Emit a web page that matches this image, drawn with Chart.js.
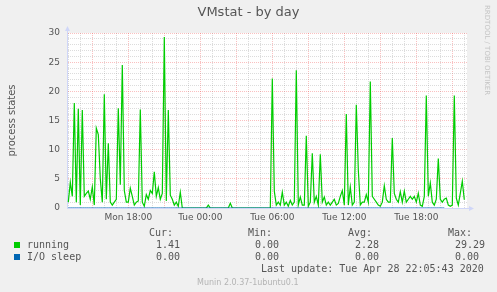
<!DOCTYPE html>
<html><head><meta charset="utf-8">
<script src="https://cdn.jsdelivr.net/npm/chart.js@4.4.1/dist/chart.umd.min.js"></script>
<style>
html,body{margin:0;padding:0;background:#f0f0f0;}
#wrap{position:relative;width:497px;height:292px;overflow:hidden;background:#f0f0f0;}
#c{position:absolute;left:0;top:0;}
.t{position:absolute;font-family:"DejaVu Sans Mono",monospace;font-size:10px;line-height:12px;color:#555;white-space:pre;}
.sq{position:absolute;width:6px;height:6px;}
#munin{position:absolute;left:197px;top:278px;font-family:"DejaVu Sans",sans-serif;font-size:8px;line-height:10px;color:#b4b4b4;white-space:pre;}
#rrd{position:absolute;left:483px;top:5px;font-family:"DejaVu Sans",sans-serif;font-size:7px;color:#c4c4c4;writing-mode:vertical-rl;white-space:pre;}
</style></head><body>
<div id="wrap">
<canvas id="c" width="497" height="292"></canvas>
<div class="t" style="left:149px;top:227px">Cur:</div>
<div class="t" style="left:248px;top:227px">Min:</div>
<div class="t" style="left:348px;top:227px">Avg:</div>
<div class="t" style="left:448px;top:227px">Max:</div>
<div class="sq" style="left:14px;top:242px;background:#00cc00"></div>
<div class="t" style="left:27px;top:239px">running</div>
<div class="t" style="left:156px;top:239px">1.41</div>
<div class="t" style="left:255px;top:239px">0.00</div>
<div class="t" style="left:355px;top:239px">2.28</div>
<div class="t" style="left:455px;top:239px">29.29</div>
<div class="sq" style="left:14px;top:254px;background:#0066b3"></div>
<div class="t" style="left:27px;top:251px">I/O sleep</div>
<div class="t" style="left:156px;top:251px">0.00</div>
<div class="t" style="left:255px;top:251px">0.00</div>
<div class="t" style="left:355px;top:251px">0.00</div>
<div class="t" style="left:455px;top:251px">0.00</div>
<div class="t" style="left:261px;top:263px">Last update: Tue Apr 28 22:05:43 2020</div>
<div id="munin">Munin 2.0.37-1ubuntu0.1</div>
<div id="rrd">RRDTOOL / TOBI OETIKER</div>
</div>
<script>
// time of first sample in minutes since Mon 00:00, sampling step in minutes
const startMinute = 780;
const stepMinutes = 10;
const running = [
 1, 4.4, 2, 18, 1, 17, 0.5, 16.8, 2, 2.5,
 2.9, 1.5, 3.6, 0.5, 13.7, 12.6, 5, 1, 19.5, 1.5,
 11.1, 1, 0.5, 1, 1.5, 17.1, 4, 24.5, 3, 1,
 1, 3.4, 2, 0.5, 1, 1.2, 16.9, 1, 0.3, 2.3,
 1.5, 3, 2.5, 6.2, 2, 3.5, 1.5, 2.5, 29.3, 1.2,
 16.8, 2.2, 1.5, 0.5, 1, 0.3, 2.7, 0, 0, 0,
 0, 0, 0, 0, 0, 0, 0, 0, 0, 0,
 0.5, 0, 0, 0, 0, 0, 0, 0, 0, 0,
 0, 0.8, 0, 0, 0, 0, 0, 0, 0, 0,
 0, 0, 0, 0, 0, 0, 0, 0, 0, 0,
 0, 0, 22.2, 2.9, 0.5, 1, 0.5, 2.7, 0.5, 1,
 0.3, 1.3, 0.5, 1, 23.6, 0.5, 1.9, 0.5, 0.5, 12.4,
 0.3, 1, 9.4, 1, 2, 0.5, 9.2, 1, 1.9, 0.5,
 1, 0.5, 1, 1.5, 0.5, 0.8, 2, 3, 0.5, 16.1,
 0.5, 3.6, 0.5, 1, 17.7, 6.5, 0.5, 1, 1, 2.3,
 1, 21.7, 2, 1.5, 1, 0.5, 0.3, 1, 3.8, 1.5,
 1, 1, 12, 2.5, 1.5, 1, 2.8, 1, 2.9, 1,
 1.5, 2, 1.5, 2, 1, 2.5, 0.5, 0.3, 2, 19.3,
 2, 4.3, 1, 0.5, 1.5, 8.5, 1.5, 1, 1.5, 1.7,
 0.5, 0.3, 0.5, 19.3, 1.7, 0.5, 2.5, 4.6, 1.41
];
const ioSleep = [
 0,0,0,0,0,0,0,0,0,0, 0,0,0,0,0,0,0,0,0,0, 0,0,0,0,0,0,0,0,0,0, 0,0,0,0,0,0,0,0,0,0,
 0,0,0,0,0,0,0,0,0,0, 0,0,0,0,0,0,0,0,0,0, 0,0,0,0,0,0,0,0,0,0, 0,0,0,0,0,0,0,0,0,0,
 0,0,0,0,0,0,0,0,0,0, 0,0,0,0,0,0,0,0,0,0, 0,0,0,0,0,0,0,0,0,0, 0,0,0,0,0,0,0,0,0,0,
 0,0,0,0,0,0,0,0,0,0, 0,0,0,0,0,0,0,0,0,0, 0,0,0,0,0,0,0,0,0,0, 0,0,0,0,0,0,0,0,0,0,
 0,0,0,0,0,0,0,0,0,0, 0,0,0,0,0,0,0,0,0,0, 0,0,0,0,0,0,0,0,0
];
const xTickMinutes = [1080, 1440, 1800, 2160, 2520];
const xTickLabels = ['Mon 18:00', 'Tue 00:00', 'Tue 06:00', 'Tue 12:00', 'Tue 18:00'];
const yTickValues = [0, 5, 10, 15, 20, 25, 30];

const xMin = 773.5, xMax = 2773.5;
const toPoints = arr => arr.map((v, i) => ({x: startMinute + i * stepMinutes, y: v}));

const hourTicks = [];
for (let m = Math.ceil(xMin / 60) * 60; m <= xMax; m += 60) hourTicks.push({value: m});
const unitTicks = [];
for (let v = 0; v <= 30; v++) unitTicks.push({value: v});

const MAJOR = 'rgba(240,60,60,0.32)';
const MINOR = 'rgba(140,140,140,0.3)';
const AXIS = '#CFD6F8';
const FONT = "'DejaVu Sans', sans-serif";

const arrows = {
  id: 'arrows',
  afterDraw(chart) {
    const {ctx, chartArea: a} = chart;
    ctx.save();
    ctx.strokeStyle = AXIS; ctx.fillStyle = AXIS; ctx.lineWidth = 1;
    ctx.beginPath(); ctx.moveTo(a.left + 0.5, a.top); ctx.lineTo(a.left + 0.5, a.top - 3); ctx.stroke();
    ctx.beginPath(); ctx.moveTo(a.left - 2, a.top - 2); ctx.lineTo(a.left + 3, a.top - 2); ctx.lineTo(a.left + 0.5, a.top - 7); ctx.closePath(); ctx.fill();
    ctx.beginPath(); ctx.moveTo(a.right, a.bottom + 0.5); ctx.lineTo(a.right + 3, a.bottom + 0.5); ctx.stroke();
    ctx.beginPath(); ctx.moveTo(a.right + 2, a.bottom - 2); ctx.lineTo(a.right + 2, a.bottom + 3); ctx.lineTo(a.right + 7, a.bottom + 0.5); ctx.closePath(); ctx.fill();
    ctx.restore();
  }
};
const plotBg = {
  id: 'plotBg',
  beforeDraw(chart) {
    const {ctx, chartArea: a} = chart;
    ctx.save(); ctx.fillStyle = '#ffffff';
    ctx.fillRect(a.left, a.top, a.right - a.left, a.bottom - a.top);
    ctx.restore();
  }
};

new Chart(document.getElementById('c'), {
  type: 'line',
  data: {
    datasets: [
      {label: 'I/O sleep', data: toPoints(ioSleep), borderColor: '#0066b3', borderWidth: 1, pointRadius: 0, tension: 0},
      {label: 'running', data: toPoints(running), borderColor: '#00cc00', borderWidth: 1.2, pointRadius: 0, tension: 0}
    ]
  },
  options: {
    responsive: false, animation: false, devicePixelRatio: 1,
    layout: {padding: {top: 0, left: 0, right: 0, bottom: 64}},
    plugins: {
      legend: {display: false}, tooltip: {enabled: false},
      title: {display: true, text: 'VMstat - by day', color: '#555', font: {family: FONT, size: 13, weight: 'normal', lineHeight: 1.2}, padding: {top: 5, bottom: 12.4}}
    },
    scales: {
      x: {
        type: 'linear', min: xMin, max: xMax,
        afterBuildTicks(s) { s.ticks = hourTicks.slice(); },
        afterFit(s) { s.height = 20; },
        ticks: {autoSkip: false, maxRotation: 0, padding: 4, color: '#555', font: {family: FONT, size: 9},
          callback(v) { const k = xTickMinutes.indexOf(v); return k >= 0 ? xTickLabels[k] : ''; }},
        grid: {drawTicks: false, lineWidth: 1, color: c => (c.tick && c.tick.value % 180 === 0) ? MAJOR : MINOR},
        border: {display: true, color: AXIS, width: 1, dash: [1, 1]}
      },
      y: {
        min: 0, max: 30,
        afterBuildTicks(s) { s.ticks = unitTicks.slice(); },
        afterFit(s) { s.width = 67; },
        ticks: {autoSkip: false, padding: 7, color: '#555', font: {family: FONT, size: 9},
          callback(v) { return yTickValues.includes(v) ? String(v) : ''; }},
        grid: {drawTicks: false, lineWidth: 1, color: c => (c.tick && c.tick.value % 5 === 0) ? MAJOR : MINOR},
        border: {display: true, color: AXIS, width: 1, dash: [1, 1]},
        title: {display: true, text: 'process states', color: '#555', font: {family: FONT, size: 10}, padding: {top: 6, bottom: 0}}
      },
      yR: {
        position: 'right', display: true, min: 0, max: 30,
        grid: {display: false}, ticks: {display: false}, border: {display: false},
        afterFit(s) { s.width = 30; }
      }
    }
  },
  plugins: [plotBg, arrows]
});
</script>
</body></html>
